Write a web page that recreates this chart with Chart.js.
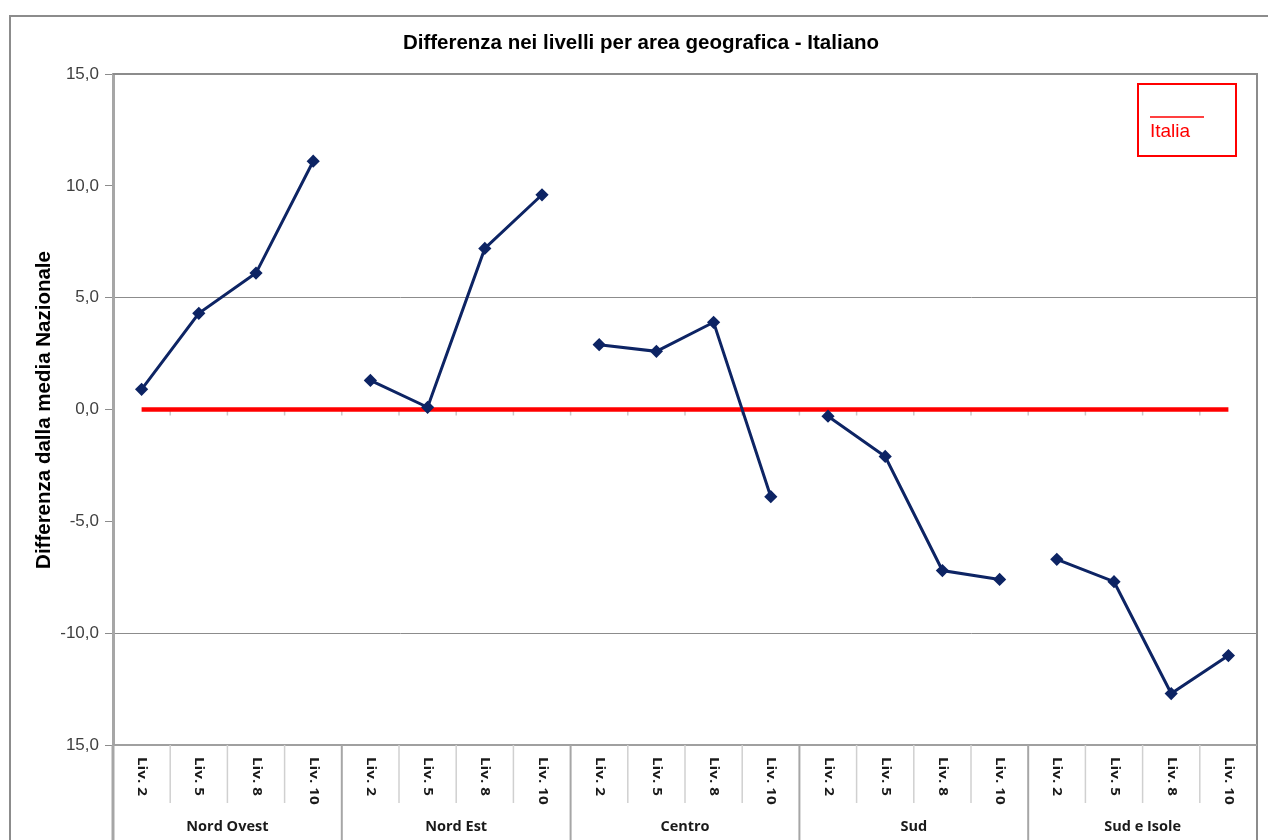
<!DOCTYPE html>
<html lang="it">
<head>
<meta charset="UTF-8">
<title>Differenza nei livelli per area geografica - Italiano</title>
<script src="https://cdn.jsdelivr.net/npm/chart.js"></script>
<style>
  body { margin: 0; background: white; }
  #wrap { width: 1268px; height: 840px; }
</style>
</head>
<body>
<div id="wrap"><canvas id="chart" width="1268" height="840"></canvas></div>
<script>
  // dati
  const aree = ['Nord Ovest', 'Nord Est', 'Centro', 'Sud', 'Sud e Isole'];
  const livelli = ['Liv. 2', 'Liv. 5', 'Liv. 8', 'Liv. 10'];
  const nordOvest = [0.9, 4.3, 6.1, 11.1];
  const nordEst = [1.3, 0.1, 7.2, 9.6];
  const centro = [2.9, 2.6, 3.9, -3.9];
  const sud = [-0.3, -2.1, -7.2, -7.6];
  const sudIsole = [-6.7, -7.7, -12.7, -11.0];
  const italia = [0, 0, 0, 0, 0, 0, 0, 0, 0, 0, 0, 0, 0, 0, 0, 0, 0, 0, 0, 0];
  const yMin = -15, yMax = 15, yStep = 5;

  const gruppi = [nordOvest, nordEst, centro, sud, sudIsole];
  const labels = aree.flatMap(a => livelli.map(l => [l, a]));
  const blu = '#0d2464';
  const rosso = '#ff0000';

  const datasets = gruppi.map((vals, g) => ({
    label: aree[g],
    data: labels.map((_, i) => Math.floor(i / livelli.length) === g ? vals[i % livelli.length] : null),
    borderColor: blu,
    backgroundColor: blu,
    borderWidth: 3,
    pointStyle: 'rectRot',
    pointRadius: 4.5,
    pointHoverRadius: 4.5,
    spanGaps: false,
    order: 1
  }));
  datasets.push({
    label: 'Italia',
    data: italia,
    borderColor: rosso,
    backgroundColor: rosso,
    borderWidth: 4.5,
    pointRadius: 0,
    order: 2
  });

  function fmt(v) {
    // l'asse originale mostra il minimo senza segno
    if (v === yMin) return Math.abs(v).toFixed(1).replace('.', ',');
    return v.toFixed(1).replace('.', ',');
  }

  const decorazioni = {
    id: 'decorazioni',
    beforeDraw(chart) {
      const c = chart.ctx;
      c.save();
      c.fillStyle = '#fff';
      c.fillRect(0, 0, chart.width, chart.height);
      c.strokeStyle = '#8c8c8c';
      c.lineWidth = 2;
      c.beginPath();
      c.moveTo(10, chart.height);
      c.lineTo(10, 16);
      c.lineTo(chart.width, 16);
      c.stroke();
      c.restore();
    },
    beforeDatasetsDraw(chart) {
      const c = chart.ctx;
      const a = chart.chartArea;
      const x = chart.scales.x;
      const y = chart.scales.y;
      const n = labels.length;
      const bordi = [];
      for (let i = 0; i <= n; i++) {
        if (i === 0) bordi.push(a.left);
        else if (i === n) bordi.push(a.right);
        else bordi.push((x.getPixelForTick(i - 1) + x.getPixelForTick(i)) / 2);
      }
      c.save();
      // bordo area del grafico
      c.strokeStyle = '#8c8c8c';
      c.lineWidth = 2;
      c.beginPath();
      c.moveTo(a.left, a.top);
      c.lineTo(a.right, a.top);
      c.lineTo(a.right, chart.height);
      c.stroke();
      c.strokeStyle = '#a0a0a0';
      c.beginPath();
      c.moveTo(a.left, a.bottom);
      c.lineTo(a.right, a.bottom);
      c.stroke();
      c.strokeStyle = '#a6a6a6';
      c.lineWidth = 3;
      c.beginPath();
      c.moveTo(a.left, a.bottom);
      c.lineTo(a.left, chart.height);
      c.stroke();

      // tacche sull'asse dello zero
      const y0 = y.getPixelForValue(0);
      c.strokeStyle = '#c8c8c8';
      c.lineWidth = 1.5;
      bordi.slice(1, n).forEach(bx => {
        c.beginPath();
        c.moveTo(bx, y0);
        c.lineTo(bx, y0 + 6);
        c.stroke();
      });

      // separatori categorie e gruppi
      bordi.slice(1, n).forEach((bx, k) => {
        const gruppo = (k + 1) % livelli.length === 0;
        c.strokeStyle = gruppo ? '#a6a6a6' : '#d0d0d0';
        c.lineWidth = gruppo ? 2 : 1.5;
        c.beginPath();
        c.moveTo(bx, a.bottom);
        c.lineTo(bx, gruppo ? chart.height : a.bottom + 58);
        c.stroke();
      });

      // etichette livelli (ruotate)
      c.fillStyle = '#1a1a1a';
      c.font = 'bold 12px "Open Sans"';
      c.textAlign = 'left';
      c.textBaseline = 'middle';
      labels.forEach((lab, i) => {
        c.save();
        c.translate(x.getPixelForTick(i), a.bottom + 12);
        c.rotate(Math.PI / 2);
        c.scale(1.27, 1);
        c.fillText(lab[0], 0, 0);
        c.restore();
      });

      // etichette aree
      c.font = 'bold 14.5px "Open Sans"';
      c.textAlign = 'center';
      aree.forEach((ar, g) => {
        const cx = (bordi[g * livelli.length] + bordi[(g + 1) * livelli.length]) / 2;
        c.fillText(ar, cx, a.bottom + 82);
      });
      c.restore();
    },
    afterDraw(chart) {
      const c = chart.ctx;
      c.save();
      c.fillStyle = '#000';
      c.font = 'bold 20.5px "Liberation Sans"';
      c.textAlign = 'center';
      c.textBaseline = 'middle';
      c.fillText('Differenza nei livelli per area geografica - Italiano', 641, 43);

      c.save();
      c.translate(44, 410);
      c.rotate(-Math.PI / 2);
      c.font = 'bold 20.5px "Liberation Sans"';
      c.fillText('Differenza dalla media Nazionale', 0, 0);
      c.restore();

      // legenda
      const ds = chart.data.datasets[chart.data.datasets.length - 1];
      c.strokeStyle = ds.borderColor;
      c.lineWidth = 2;
      c.strokeRect(1138, 84, 98, 72);
      c.lineWidth = 1.5;
      c.beginPath();
      c.moveTo(1150, 117);
      c.lineTo(1204, 117);
      c.stroke();
      c.fillStyle = ds.borderColor;
      c.font = '19px "Liberation Sans"';
      c.textAlign = 'left';
      c.textBaseline = 'alphabetic';
      c.fillText(ds.label, 1150, 137);
      c.restore();
    }
  };

  const ctx = document.getElementById('chart').getContext('2d');
  const chart = new Chart(ctx, {
    type: 'line',
    data: { labels: labels, datasets: datasets },
    options: {
      responsive: false,
      animation: false,
      layout: { padding: { top: 74, right: 11, left: 0, bottom: 0 }, autoPadding: false },
      plugins: {
        legend: { display: false },
        title: { display: false },
        tooltip: { enabled: false }
      },
      scales: {
        x: {
          type: 'category',
          offset: true,
          grid: { display: false },
          border: { display: false },
          ticks: { display: false },
          afterFit: s => { s.height = 95; }
        },
        y: {
          min: yMin,
          max: yMax,
          afterFit: s => { s.width = 113; },
          ticks: {
            stepSize: yStep,
            padding: 6,
            color: '#404040',
            font: { family: '"Liberation Sans"', size: 17 },
            callback: v => fmt(v)
          },
          grid: {
            tickLength: 8,
            tickColor: '#8c8c8c',
            color: c => (c.tick && (c.tick.value === 5 || c.tick.value === -10)) ? '#8c8c8c' : 'transparent',
            lineWidth: 1
          },
          border: { color: '#a6a6a6', width: 3 }
        }
      }
    },
    plugins: [decorazioni]
  });
</script>
</body>
</html>
